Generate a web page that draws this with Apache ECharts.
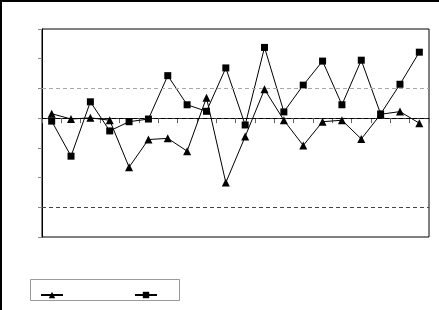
<!DOCTYPE html>
<html>
<head>
<meta charset="utf-8">
<script src="https://cdn.jsdelivr.net/npm/echarts@6/dist/echarts.min.js"></script>
<style>html,body{margin:0;padding:0;background:#fff}#c{width:439px;height:310px}</style>
</head>
<body>
<div id="c"></div>
<script>
var categories = ['1','2','3','4','5','6','7','8','9','10','11','12','13','14','15','16','17','18','19','20'];
var seriesA = [0.15,-0.03,0.01,-0.07,-1.65,-0.72,-0.68,-1.11,0.69,-2.17,-0.62,0.97,-0.07,-0.92,-0.12,-0.07,-0.70,0.13,0.22,-0.17];
var seriesB = [-0.10,-1.28,0.55,-0.43,-0.12,-0.03,1.43,0.45,0.23,1.69,-0.23,2.38,0.21,1.11,1.92,0.45,1.95,0.14,1.14,2.22];
var refLines = [0, 1, -3];
var refColors = ['#000000', '#a8a8a8', '#444444'];
var yMin = -4, yMax = 3, yStep = 1;

var chart = echarts.init(document.getElementById('c'), null, {renderer: 'canvas'});
var option = {
  animation: false,
  backgroundColor: '#fff',
  grid: {left: 42, right: 10, top: 29, bottom: 73, show: true, borderColor: '#000', borderWidth: 1, backgroundColor: 'transparent'},
  xAxis: {
    type: 'category', data: categories, boundaryGap: true,
    axisLine: {lineStyle: {color: '#333', width: 1}},
    axisTick: {show: true, interval: 0, length: 5, lineStyle: {color: '#666'}},
    axisLabel: {show: false},
    splitLine: {show: false}
  },
  yAxis: {
    type: 'value', min: yMin, max: yMax, interval: yStep,
    axisLine: {show: true, lineStyle: {color: '#000', width: 1}},
    axisTick: {show: true, length: 4, lineStyle: {color: '#888'}},
    axisLabel: {show: false},
    splitLine: {show: false}
  },
  legend: {
    left: 35, top: 286, itemWidth: 22, itemHeight: 8, itemGap: 70,
    formatter: function(){ return ''; },
    data: ['A', 'B'],
    inactiveColor: '#000'
  },
  graphic: [
    {type: 'rect', shape: {x: 1, y: 1, width: 460, height: 330}, style: {fill: 'none', stroke: '#000', lineWidth: 2}, silent: true},
    {type: 'rect', shape: {x: 30.5, y: 279.5, width: 149, height: 21}, style: {fill: 'none', stroke: '#999', lineWidth: 1}, silent: true}
  ],
  series: [
    {
      name: 'A', type: 'line', data: seriesA,
      symbol: 'triangle', symbolSize: 8,
      lineStyle: {color: '#000', width: 1},
      itemStyle: {color: '#000'},
      markLine: {
        silent: true, symbol: 'none', label: {show: false},
        data: refLines.map(function(v, i){ return {yAxis: v, lineStyle: {color: refColors[i], type: [4, 3], width: 1}}; })
      },
      z: 3
    },
    {
      name: 'B', type: 'line', data: seriesB,
      symbol: 'rect', symbolSize: 7,
      lineStyle: {color: '#000', width: 1},
      itemStyle: {color: '#000'},
      z: 3
    }
  ]
};
chart.setOption(option);
</script>
</body>
</html>
